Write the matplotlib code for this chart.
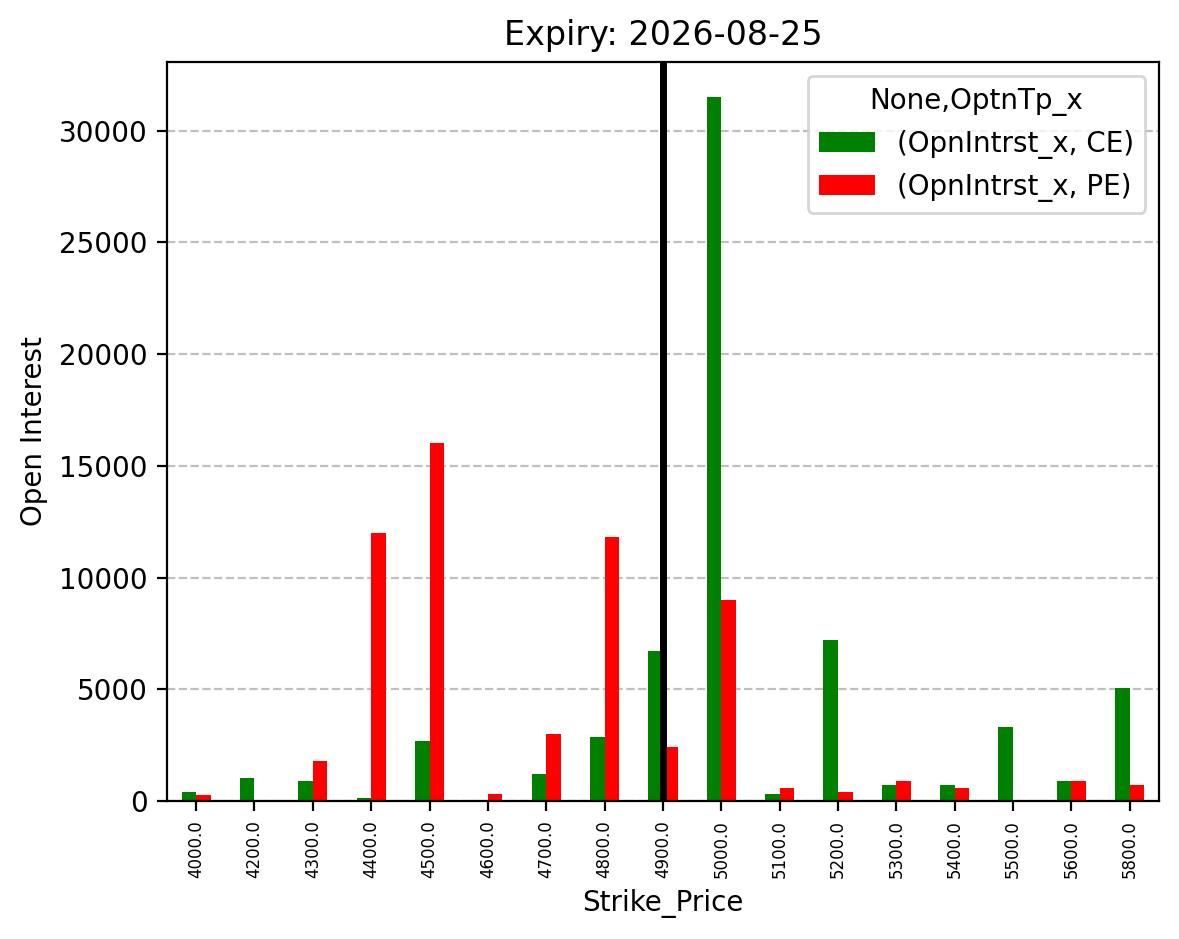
import numpy as np
import matplotlib
matplotlib.use("Agg")
import matplotlib.pyplot as plt

strikes = ["4000.0", "4200.0", "4300.0", "4400.0", "4500.0", "4600.0", "4700.0", "4800.0",
           "4900.0", "5000.0", "5100.0", "5200.0", "5300.0", "5400.0", "5500.0", "5600.0", "5800.0"]
ce_oi = [400, 1050, 900, 150, 2700, np.nan, 1200, 2850, 6700, 31500, 300, 7200, 700, 700, 3300, 900, 5050]
pe_oi = [250, np.nan, 1800, 12000, 16000, 300, 3000, 11800, 2400, 9000, 600, 400, 900, 600, np.nan, 900, 700]
spot_index = 8  # strike 4900.0

fig = plt.figure(figsize=(5.895, 4.695), dpi=200)
ax = fig.add_axes([0.1416, 0.147, 0.983 - 0.1416, 0.934 - 0.147])

x = np.arange(len(strikes))
w = 0.25
ax.bar(x - w / 2, ce_oi, width=w, color="green", label="(OpnIntrst_x, CE)", zorder=2)
ax.bar(x + w / 2, pe_oi, width=w, color="red", label="(OpnIntrst_x, PE)", zorder=2)
ax.set_xlim(-0.5, len(strikes) - 0.5)
ax.set_xticks(x)
ax.set_xticklabels(strikes, rotation=90, fontsize=6)
ax.axvline(spot_index, color="black", linewidth=2.5, zorder=3)
ax.yaxis.grid(True, linestyle="--", color="gray", alpha=0.5, zorder=0)
ax.set_axisbelow(True)
ax.set_title("Expiry: 2026-08-25", fontsize=12)
ax.set_xlabel("Strike_Price")
ax.set_ylabel("Open Interest")
ax.legend(title="None,OptnTp_x", loc="upper right")

fig.savefig("out.png", dpi=200)
